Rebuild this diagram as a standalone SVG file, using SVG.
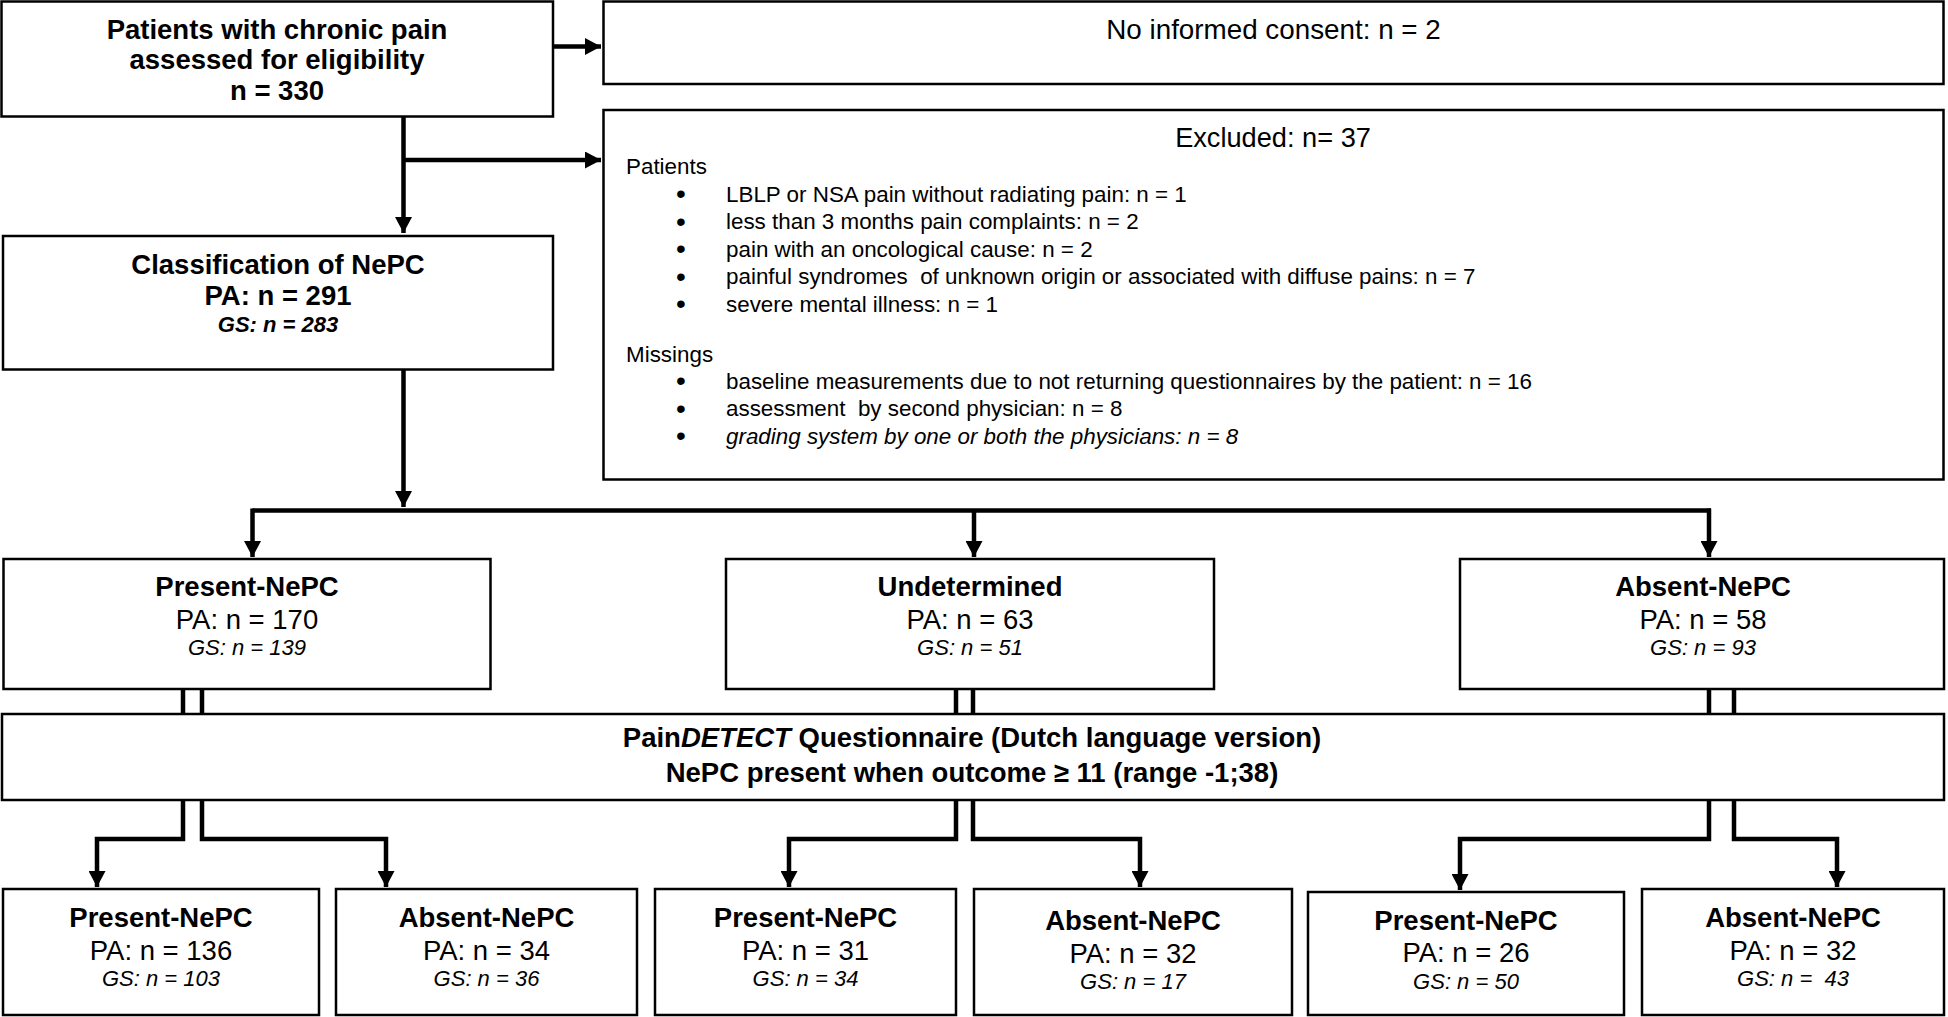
<svg xmlns="http://www.w3.org/2000/svg" width="1948" height="1017" viewBox="0 0 1948 1017">
<style>
  .box{fill:#fff;stroke:#000;stroke-width:2.5}
  .ln{fill:none;stroke:#000;stroke-width:4.5;stroke-linejoin:miter}
  text{font-family:'Liberation Sans',Arial,Helvetica,sans-serif;fill:#000}
  .h{font-size:27.5px;font-weight:bold;text-anchor:middle}
  .r{font-size:27.5px;text-anchor:middle}
  .g{font-size:22px;font-style:italic;text-anchor:middle}
  .gb{font-size:22px;font-style:italic;font-weight:bold;text-anchor:middle}
  .t{font-size:22.4px}
  .bu{font-size:28px;text-anchor:middle}
</style>
<defs>
  <marker id="ah" markerUnits="userSpaceOnUse" markerWidth="17" markerHeight="17" refX="16" refY="8.5" orient="auto">
    <path d="M0,0 L16,8.5 L0,17 z" fill="#000"/>
  </marker>
</defs>

<g id="connectors">
  <path class="ln" d="M553,46.5 H601" marker-end="url(#ah)"/>
  <path class="ln" d="M403.5,117 V233" marker-end="url(#ah)"/>
  <path class="ln" d="M403.5,160 H601" marker-end="url(#ah)"/>
  <path class="ln" d="M403.5,369 V507" marker-end="url(#ah)"/>
  <path class="ln" d="M252.5,510.5 H1711"/>
  <path class="ln" d="M252.5,508.5 V557" marker-end="url(#ah)"/>
  <path class="ln" d="M974,510.5 V557" marker-end="url(#ah)"/>
  <path class="ln" d="M1709,508.5 V557" marker-end="url(#ah)"/>
  <path class="ln" d="M183,689 V714"/>
  <path class="ln" d="M202,689 V714"/>
  <path class="ln" d="M956,689 V714"/>
  <path class="ln" d="M973,689 V714"/>
  <path class="ln" d="M1709,689 V714"/>
  <path class="ln" d="M1734,689 V714"/>
  <path class="ln" d="M183,800 V839 H97 V887" marker-end="url(#ah)"/>
  <path class="ln" d="M202,800 V839 H386 V887" marker-end="url(#ah)"/>
  <path class="ln" d="M956,800 V839 H789 V887" marker-end="url(#ah)"/>
  <path class="ln" d="M973,800 V839 H1140 V887" marker-end="url(#ah)"/>
  <path class="ln" d="M1709,800 V839 H1460 V890" marker-end="url(#ah)"/>
  <path class="ln" d="M1734,800 V839 H1837 V887" marker-end="url(#ah)"/>
</g>

<g id="n-eligibility">
  <rect class="box" x="1.5" y="1.5" width="551.5" height="115"/>
  <text class="h" x="277" y="38.5">Patients with chronic pain</text>
  <text class="h" x="277" y="68.5">assessed for eligibility</text>
  <text class="h" x="277" y="100">n = 330</text>
</g>

<g id="n-noconsent">
  <rect class="box" x="603.5" y="1.5" width="1340" height="82.5"/>
  <text class="r" x="1273.5" y="38.5" style="font-size:27.8px">No informed consent: n = 2</text>
</g>

<g id="n-excluded">
  <rect class="box" x="603.5" y="110" width="1340" height="369.5"/>
  <text class="r" x="1273" y="146.5" style="font-size:27.2px">Excluded: n= 37</text>
  <text class="t" x="626" y="173.5">Patients</text>
  <text class="bu" x="681" y="203">•</text>
  <text class="t" x="726" y="201.5">LBLP or NSA pain without radiating pain: n = 1</text>
  <text class="bu" x="681" y="230.5">•</text>
  <text class="t" x="726" y="229">less than 3 months pain complaints: n = 2</text>
  <text class="bu" x="681" y="258">•</text>
  <text class="t" x="726" y="256.5">pain with an oncological cause: n = 2</text>
  <text class="bu" x="681" y="285.5">•</text>
  <text class="t" x="726" y="284" xml:space="preserve">painful syndromes  of unknown origin or associated with diffuse pains: n = 7</text>
  <text class="bu" x="681" y="313">•</text>
  <text class="t" x="726" y="311.5">severe mental illness: n = 1</text>
  <text class="t" x="626" y="361.5">Missings</text>
  <text class="bu" x="681" y="390">•</text>
  <text class="t" x="726" y="388.5">baseline measurements due to not returning questionnaires by the patient: n = 16</text>
  <text class="bu" x="681" y="417.5">•</text>
  <text class="t" x="726" y="416" xml:space="preserve">assessment  by second physician: n = 8</text>
  <text class="bu" x="681" y="445">•</text>
  <text class="t" x="726" y="443.5" style="font-style:italic">grading system by one or both the physicians: n = 8</text>
</g>

<g id="n-classification">
  <rect class="box" x="3" y="236" width="550" height="133.5"/>
  <text class="h" x="278" y="273.5">Classification of NePC</text>
  <text class="h" x="278" y="305">PA: n = 291</text>
  <text class="gb" x="278" y="332">GS: n = 283</text>
</g>

<g id="n-present">
  <rect class="box" x="3.5" y="559" width="487" height="130"/>
  <text class="h" x="247" y="596">Present-NePC</text>
  <text class="r" x="247" y="628.5">PA: n = 170</text>
  <text class="g" x="247" y="655">GS: n = 139</text>
</g>

<g id="n-undetermined">
  <rect class="box" x="726" y="559" width="488" height="130"/>
  <text class="h" x="970" y="596">Undetermined</text>
  <text class="r" x="970" y="628.5">PA: n = 63</text>
  <text class="g" x="970" y="655">GS: n = 51</text>
</g>

<g id="n-absent">
  <rect class="box" x="1460" y="559" width="484" height="130"/>
  <text class="h" x="1703" y="596">Absent-NePC</text>
  <text class="r" x="1703" y="628.5">PA: n = 58</text>
  <text class="g" x="1703" y="655">GS: n = 93</text>
</g>

<g id="n-paindetect">
  <rect class="box" x="2" y="714" width="1942" height="86"/>
  <text class="h" x="972" y="747"><tspan>Pain</tspan><tspan font-style="italic">DETECT</tspan><tspan> Questionnaire (Dutch language version)</tspan></text>
  <text class="h" x="972" y="782">NePC present when outcome ≥ 11 (range -1;38)</text>
</g>

<g id="n-pres-pres">
  <rect class="box" x="3" y="889" width="316" height="126"/>
  <text class="h" x="161" y="927">Present-NePC</text>
  <text class="r" x="161" y="960">PA: n = 136</text>
  <text class="g" x="161" y="986">GS: n = 103</text>
</g>

<g id="n-pres-abs">
  <rect class="box" x="336" y="889" width="301" height="126"/>
  <text class="h" x="486.5" y="927">Absent-NePC</text>
  <text class="r" x="486.5" y="960">PA: n = 34</text>
  <text class="g" x="486.5" y="986">GS: n = 36</text>
</g>

<g id="n-und-pres">
  <rect class="box" x="655" y="889" width="301" height="126"/>
  <text class="h" x="805.5" y="927">Present-NePC</text>
  <text class="r" x="805.5" y="960">PA: n = 31</text>
  <text class="g" x="805.5" y="986">GS: n = 34</text>
</g>

<g id="n-und-abs">
  <rect class="box" x="974" y="889" width="318" height="126"/>
  <text class="h" x="1133" y="929.5">Absent-NePC</text>
  <text class="r" x="1133" y="963">PA: n = 32</text>
  <text class="g" x="1133" y="989">GS: n = 17</text>
</g>

<g id="n-abs-pres">
  <rect class="box" x="1308" y="892" width="316" height="123"/>
  <text class="h" x="1466" y="930">Present-NePC</text>
  <text class="r" x="1466" y="962">PA: n = 26</text>
  <text class="g" x="1466" y="988.5">GS: n = 50</text>
</g>

<g id="n-abs-abs">
  <rect class="box" x="1642" y="889" width="302" height="126"/>
  <text class="h" x="1793" y="927">Absent-NePC</text>
  <text class="r" x="1793" y="960">PA: n = 32</text>
  <text class="g" x="1793" y="986" xml:space="preserve">GS: n =  43</text>
</g>
</svg>
